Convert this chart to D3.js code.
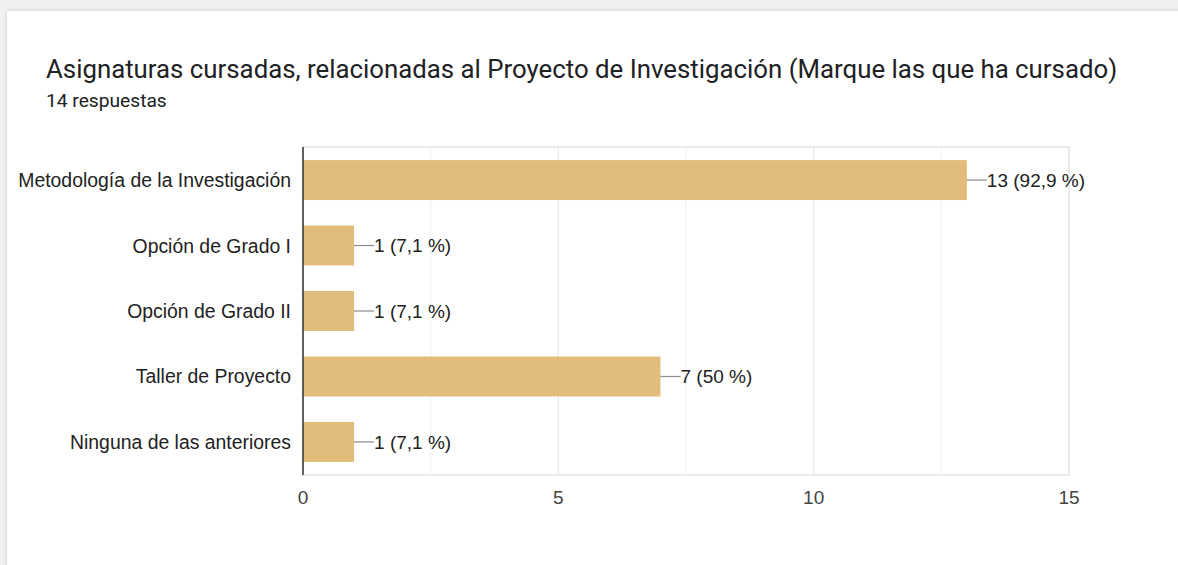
<!DOCTYPE html>
<html><head><meta charset="utf-8">
<script src="https://cdnjs.cloudflare.com/ajax/libs/d3/7.8.5/d3.min.js"></script>
<style>
html,body{margin:0;padding:0;background:#f1f1f1;}
#card{position:absolute;left:7px;top:11px;width:1200px;height:580px;background:#fff;box-shadow:0 0 4px rgba(0,0,0,0.18);}
svg{position:absolute;left:0;top:0;}
</style></head>
<body><div id="card"></div>
<svg id="chart" width="1178" height="565"></svg>
<script>
const title = "Asignaturas cursadas, relacionadas al Proyecto de Investigación (Marque las que ha cursado)";
const subtitle = "14 respuestas";
const categories = ["Metodología de la Investigación","Opción de Grado I","Opción de Grado II","Taller de Proyecto","Ninguna de las anteriores"];
const counts = [13,1,1,7,1];
const labels = ["13 (92,9 %)","1 (7,1 %)","1 (7,1 %)","7 (50 %)","1 (7,1 %)"];
const ticks = [0,5,10,15];
const minorTicks = [2.5,7.5,12.5];

const svg = d3.select("#chart");
svg.append("text").attr("x",46).attr("y",78).text(title)
  .attr("font-family","Roboto").attr("font-size",25.8).attr("fill","#202124");
svg.append("text").attr("x",46).attr("y",107).text(subtitle)
  .attr("font-family","Roboto").attr("font-size",19.2).attr("fill","#202124");

const x = d3.scaleLinear().domain([0,15]).range([303,1069]);
const y = d3.scaleBand().domain(categories).range([147,475]).paddingInner(0.39).paddingOuter(0.2);

const g = svg.append("g");
g.append("rect").attr("x",x(0)).attr("y",147).attr("width",x(15)-x(0)).attr("height",475-147)
  .attr("fill","none").attr("stroke","#ebebeb").attr("stroke-width",2);
g.selectAll(".minor").data(minorTicks).enter().append("line")
  .attr("x1",d=>x(d)).attr("x2",d=>x(d)).attr("y1",147).attr("y2",475)
  .attr("stroke","#f0f0f0").attr("stroke-width",1);
g.selectAll(".major").data(ticks.slice(1,3)).enter().append("line")
  .attr("x1",d=>x(d)).attr("x2",d=>x(d)).attr("y1",147).attr("y2",475)
  .attr("stroke","#ebebeb").attr("stroke-width",1.5);

g.selectAll(".bar").data(categories).enter().append("rect")
  .attr("x",x(0)).attr("y",d=>y(d)).attr("height",y.bandwidth())
  .attr("width",(d,i)=>x(counts[i])-x(0)).attr("fill","#e2bc7a");

g.append("line").attr("x1",x(0)).attr("x2",x(0)).attr("y1",147).attr("y2",475)
  .attr("stroke","#333").attr("stroke-width",1.5);

const fs = 19;
categories.forEach((c,i)=>{
  const cy = y(c)+y.bandwidth()/2;
  g.append("line").attr("x1",x(counts[i])).attr("x2",x(counts[i])+20).attr("y1",cy).attr("y2",cy)
    .attr("stroke","#8a8a8a").attr("stroke-width",1.2);
  g.append("text").attr("x",x(counts[i])+20).attr("y",cy).attr("dy","0.36em")
    .text(labels[i]).attr("font-family","Liberation Sans, Arial").attr("font-size",fs).attr("fill","#222");
  g.append("text").attr("x",291).attr("y",cy).attr("dy","0.36em").attr("text-anchor","end")
    .text(c).attr("font-family","Liberation Sans, Arial").attr("font-size",19.4).attr("fill","#222");
});

g.selectAll(".tick").data(ticks).enter().append("text")
  .attr("x",d=>x(d)).attr("y",504).attr("text-anchor","middle").text(d=>d)
  .attr("font-family","Liberation Sans, Arial").attr("font-size",fs).attr("fill","#444");
</script></body></html>
